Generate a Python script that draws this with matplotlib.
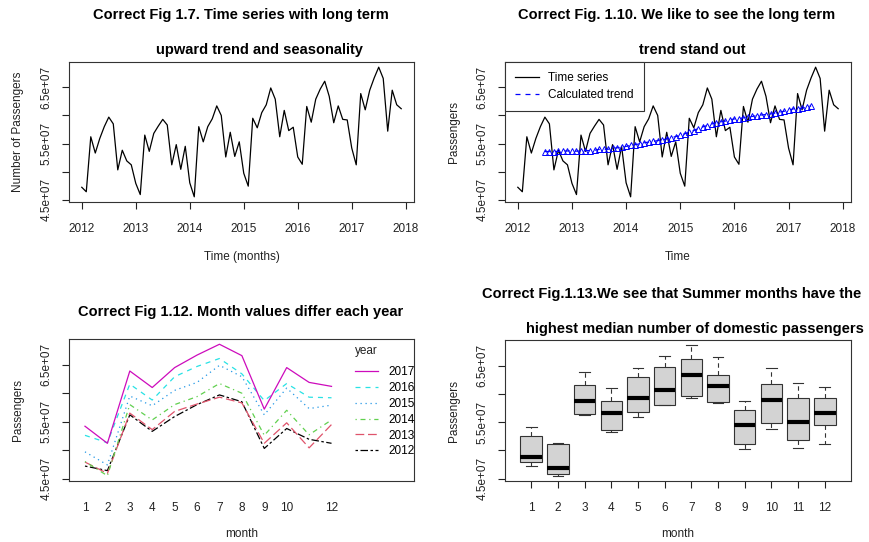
import numpy as np
import matplotlib
matplotlib.use('Agg')
import matplotlib.pyplot as plt
from matplotlib.lines import Line2D

plt.rcParams['font.family'] = ['Liberation Sans', 'DejaVu Sans']

# monthly domestic passengers, millions, Jan..Dec
years = [2012, 2013, 2014, 2015, 2016, 2017]
months = list(range(1, 13))
pass_2012 = [47.2, 46.4, 56.2, 53.3, 55.9, 58.0, 59.7, 58.5, 50.3, 53.8, 51.9, 51.2]
pass_2013 = [47.9, 45.9, 56.5, 53.6, 56.8, 58.1, 59.3, 58.3, 51.2, 54.8, 50.4, 54.5]
pass_2014 = [48.0, 45.5, 58.0, 55.3, 58.0, 59.4, 61.7, 60.0, 52.6, 57.0, 52.7, 55.3]
pass_2015 = [49.7, 47.4, 59.5, 57.8, 60.5, 61.9, 64.9, 62.9, 56.2, 60.9, 57.3, 57.9]
pass_2016 = [52.6, 51.3, 61.6, 58.8, 62.9, 64.7, 66.1, 63.4, 58.7, 61.7, 59.3, 59.2]
pass_2017 = [54.2, 51.2, 63.9, 61.0, 64.5, 66.7, 68.6, 66.6, 57.2, 64.5, 61.9, 61.2]
by_year = [pass_2012, pass_2013, pass_2014, pass_2015, pass_2016, pass_2017]

yticks = [45e6, 50e6, 55e6, 60e6, 65e6]
ytick_labels = ['4.5e+07', '', '5.5e+07', '', '6.5e+07']
year_ticks = [2012, 2013, 2014, 2015, 2016, 2017, 2018]
month_ticks_fig12 = [1, 2, 3, 4, 5, 6, 7, 8, 9, 10, 12]

# R default palette / line types
year_colors = ['black', '#DF536B', '#61D04F', '#2297E6', '#28E2E5', '#CD0BBC']
year_styles = [(0, (2, 2, 6, 2)), (0, (7, 3)), (0, (1, 3, 4, 3)), (0, (1, 3)), (0, (4, 4)), '-']

series = np.concatenate(by_year) * 1e6
t = 2012 + np.arange(len(series)) / 12

# centred 2x12 moving average (as decompose())
w = np.r_[0.5, np.ones(11), 0.5] / 12
trend = np.convolve(series, w, mode='valid')
t_trend = t[6:6 + len(trend)]

lo, hi = series.min(), series.max()
ylim = (lo - 0.04 * (hi - lo), hi + 0.04 * (hi - lo))

W, H = 870, 542
fig = plt.figure(figsize=(W / 100, H / 100), dpi=100)


def rect(l, top, r, b):
    return [l / W, 1 - b / H, (r - l) / W, (b - top) / H]


def title(x, y, s):
    fig.text(x / W, 1 - y / H, s, ha='center', va='center', fontsize=10.5, fontweight='bold')


def style(ax, xlabel, ylabel, ylab_x, xlab_y, box):
    for s in ax.spines.values():
        s.set_linewidth(0.8)
        s.set_color('#333333')
    ax.set_ylim(ylim)
    ax.set_yticks(yticks)
    ax.set_yticklabels(ytick_labels, rotation=90, va='center')
    ax.tick_params(axis='both', length=5, width=0.8, labelsize=8.5, colors='#222222')
    ax.tick_params(axis='x', pad=10)
    ax.tick_params(axis='y', pad=7)
    l, top, r, b = box
    ax.set_xlabel(xlabel, fontsize=8.5, color='#222222', va='center')
    ax.set_ylabel(ylabel, fontsize=8.5, color='#222222', va='center')
    ax.xaxis.set_label_coords(0.5, -(xlab_y - b) / (b - top))
    ax.yaxis.set_label_coords(-(l - ylab_x) / (r - l), 0.5)


# Fig 1.7
box1 = (69, 62, 414, 202)
ax1 = fig.add_axes(rect(*box1))
ax1.plot(t, series, color='black', lw=0.9)
ax1.set_xlim(t[0] - 0.04 * (t[-1] - t[0]), t[-1] + 0.04 * (t[-1] - t[0]))
ax1.set_xticks(year_ticks)
style(ax1, 'Time (months)', 'Number of Passengers', 18, 257, box1)
title(241, 15, 'Correct Fig 1.7. Time series with long term')
title(259, 50, 'upward trend and seasonality')

# Fig 1.10
box2 = (505, 62, 851, 202)
ax2 = fig.add_axes(rect(*box2))
ax2.plot(t, series, color='black', lw=0.9)
ax2.plot(t_trend, trend, color='blue', lw=0.9, ls=(0, (4, 4)))
ax2.plot(t_trend, trend, ls='none', marker='^', ms=4.5, mfc='none', mec='blue', mew=0.7)
ax2.set_xlim(t[0] - 0.04 * (t[-1] - t[0]), t[-1] + 0.04 * (t[-1] - t[0]))
ax2.set_xticks(year_ticks)
style(ax2, 'Time', 'Passengers', 454, 257, box2)
handles = [Line2D([], [], color='black', lw=0.9),
           Line2D([], [], color='blue', lw=0.9, ls=(0, (4, 4)))]
leg = ax2.legend(handles, ['Time series', 'Calculated trend'], loc='upper left',
                 bbox_to_anchor=(0, 1), borderaxespad=0, fancybox=False,
                 edgecolor='#333333', framealpha=1, fontsize=8.5, handlelength=2.0,
                 handletextpad=0.8, borderpad=0.85, labelspacing=0.4)
leg.get_frame().set_linewidth(0.8)
title(677, 15, 'Correct Fig. 1.10. We like to see the long term')
title(692, 50, 'trend stand out')

# Fig 1.12
box3 = (69, 339, 414, 481)
ax3 = fig.add_axes(rect(*box3))
lines3 = []
for yr, vals, c, ls in zip(years, by_year, year_colors, year_styles):
    ln, = ax3.plot(months, np.array(vals) * 1e6, color=c, ls=ls, lw=0.9, label=str(yr))
    lines3.append(ln)
ax3.set_xlim(0.287, 15.68)
ax3.set_xticks(month_ticks_fig12)
style(ax3, 'month', 'Passengers', 18, 534, box3)
ax3.tick_params(axis='x', length=0, pad=15)
ax3.legend(lines3[::-1], [str(y) for y in years[::-1]], loc='upper left',
           bbox_to_anchor=((355 - 69) / 345, (481 - 366) / 142), frameon=False,
           borderpad=0, borderaxespad=0, fontsize=8.5, handlelength=1.95,
           handletextpad=0.9, labelspacing=0.33)
ax3.text((355 - 69) / 345, (481 - 351) / 142, 'year', transform=ax3.transAxes,
         ha='left', va='center', fontsize=8.5, color='#222222')
title(241, 312, 'Correct Fig 1.12. Month values differ each year')


# Fig 1.13
def fivenum(x):
    x = np.sort(x)
    n = len(x)
    n4 = np.floor((n + 3) / 2) / 2
    d = np.array([1, n4, (n + 1) / 2, n + 1 - n4, n]) - 1
    return 0.5 * (x[np.floor(d).astype(int)] + x[np.ceil(d).astype(int)])


stats = []
for m in range(12):
    x = np.array([v[m] for v in by_year]) * 1e6
    f = fivenum(x)
    iqr = f[3] - f[1]
    inside = x[(x >= f[1] - 1.5 * iqr) & (x <= f[3] + 1.5 * iqr)]
    stats.append(dict(med=f[2], q1=f[1], q3=f[3], whislo=inside.min(),
                      whishi=inside.max(), fliers=x[~np.isin(x, inside)]))

box4 = (505, 340, 851, 481)
ax4 = fig.add_axes(rect(*box4))
ax4.bxp(stats, positions=months, widths=0.8, capwidths=0.4, patch_artist=True,
        boxprops=dict(facecolor='#D3D3D3', edgecolor='#333333', lw=0.8),
        medianprops=dict(color='black', lw=3, solid_capstyle='butt'),
        whiskerprops=dict(color='#333333', lw=0.8, ls=(0, (4, 3))),
        capprops=dict(color='#333333', lw=0.8),
        flierprops=dict(marker='o', mfc='none', mec='black', ms=4))
ax4.set_xlim(0.02, 12.98)
ax4.set_xticks(months)
ax4.set_xticklabels([str(m) for m in months])
style(ax4, 'month', 'Passengers', 454, 534, box4)
title(672, 294, 'Correct Fig.1.13.We see that Summer months have the')
title(695, 329, 'highest median number of domestic passengers')

fig.savefig('out.png', dpi=100)
